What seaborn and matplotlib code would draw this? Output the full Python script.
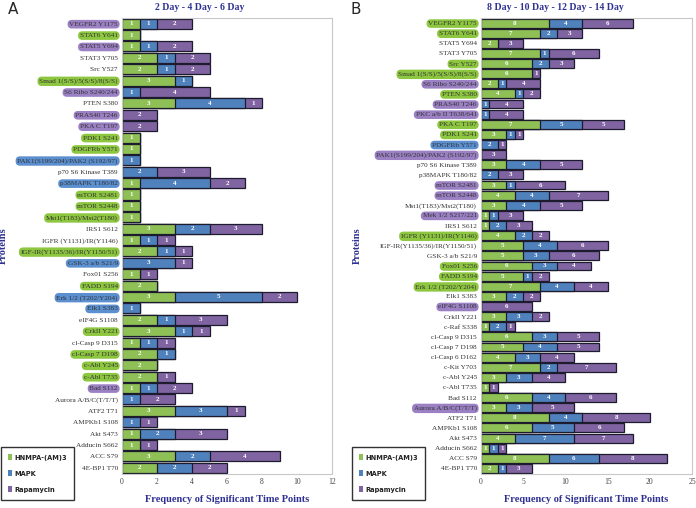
import matplotlib
matplotlib.use("Agg")
import matplotlib.pyplot as plt
from matplotlib.patches import Patch
import pandas as pd
import seaborn as sns

# panel A: 2 Day - 4 Day - 6 Day
labels_a = ["VEGFR2 Y1175", "STAT6 Y641", "STAT5 Y694", "STAT3 Y705", "Src Y527",
            "Smad 1(S/S)/5(S/S)/8(S/S)", "S6 Ribo S240/244", "PTEN S380", "PRAS40 T246", "PKA C T197",
            "PDK1 S241", "PDGFRb Y571", "PAK1(S199/204)/PAK2 (S192/97)", "p70 S6 Kinase T389", "p38MAPK T180/82",
            "mTOR S2481", "mTOR S2448", "Mst1(T183)/Mst2(T180)", "IRS1 S612", "IGFR (Y1131)/IR(Y1146)",
            "IGF-IR(Y1135/36)/IR(Y1150/51)", "GSK-3 a/b S21/9", "Fox01 S256", "FADD S194", "Erk 1/2 (T202/Y204)",
            "Elk1 S383", "eIF4G S1108", "CrkII Y221", "cl-Casp 9 D315", "cl-Casp 7 D198",
            "c-Abl Y245", "c-Abl T735", "Bad S112", "Aurora A/B/C(T/T/T)", "ATF2 T71",
            "AMPKb1 S108", "Akt S473", "Adducin S662", "ACC S79", "4E-BP1 T70"]
hnmpa_a = [1, 1, 1, 2, 2, 3, 0, 3, 0, 0, 1, 1, 0, 0, 1, 1, 1, 1, 3, 1,
           2, 0, 1, 2, 3, 0, 2, 3, 1, 2, 2, 2, 1, 0, 3, 0, 1, 1, 3, 2]
mapk_a = [1, 0, 1, 1, 1, 1, 1, 4, 0, 0, 0, 0, 1, 2, 4, 0, 0, 0, 2, 1,
          1, 3, 0, 0, 5, 1, 1, 1, 1, 1, 0, 0, 1, 1, 3, 1, 2, 0, 2, 2]
rapa_a = [2, 0, 2, 2, 2, 0, 4, 1, 2, 2, 0, 0, 0, 3, 2, 0, 0, 0, 3, 1,
          1, 1, 1, 0, 2, 0, 3, 1, 1, 0, 0, 1, 2, 2, 1, 1, 3, 1, 4, 2]
hl_a = ["p", "g", "p", "", "", "g", "p", "", "p", "p", "g", "g", "b", "", "b", "g", "g", "g", "", "",
        "g", "b", "", "g", "b", "b", "", "g", "", "g", "g", "g", "p", "", "", "", "", "", "", ""]

# panel B: 8 Day - 10 Day - 12 Day - 14 Day
labels_b = ["VEGFR2 Y1175", "STAT6 Y641", "STAT5 Y694", "STAT3 Y705", "Src Y527",
            "Smad 1(S/S)/5(S/S)/8(S/S)", "S6 Ribo S240/244", "PTEN S380", "PRAS40 T246", "PKC a/b II T638/641",
            "PKA C T197", "PDK1 S241", "PDGFRb Y571", "PAK1(S199/204)/PAK2 (S192/97)", "p70 S6 Kinase T389",
            "p38MAPK T180/82", "mTOR S2481", "mTOR S2448", "Mst1(T183)/Mst2(T180)", "Mek 1/2 S217/221",
            "IRS1 S612", "IGFR (Y1131)/IR(Y1146)", "IGF-IR(Y1135/36)/IR(Y1150/51)", "GSK-3 a/b S21/9", "Fox01 S256",
            "FADD S194", "Erk 1/2 (T202/Y204)", "Elk1 S383", "eIF4G S1108", "CrkII Y221",
            "c-Raf S338", "cl-Casp 9 D315", "cl-Casp 7 D198", "cl-Casp 6 D162", "c-Kit Y703",
            "c-Abl Y245", "c-Abl T735", "Bad S112", "Aurora A/B/C(T/T/T)", "ATF2 T71",
            "AMPKb1 S108", "Akt S473", "Adducin S662", "ACC S79", "4E-BP1 T70"]
hnmpa_b = [8, 7, 2, 7, 6, 6, 2, 4, 0, 0, 7, 3, 0, 0, 3, 0, 3, 4, 3, 1, 1, 4, 5,
           5, 6, 5, 7, 3, 0, 3, 1, 6, 5, 4, 7, 3, 1, 6, 3, 8, 6, 4, 1, 8, 2]
mapk_b = [4, 2, 0, 1, 2, 0, 1, 1, 1, 1, 5, 1, 2, 0, 4, 2, 1, 4, 4, 1, 2, 2, 4,
          3, 3, 1, 4, 2, 0, 3, 2, 3, 4, 3, 2, 3, 0, 4, 3, 4, 5, 7, 1, 6, 1]
rapa_b = [6, 3, 3, 6, 3, 1, 4, 2, 4, 4, 5, 1, 1, 3, 5, 3, 6, 7, 5, 3, 3, 2, 6,
          6, 4, 2, 4, 2, 6, 2, 1, 5, 5, 4, 7, 4, 1, 6, 5, 8, 6, 7, 1, 8, 3]
hl_b = ["g", "g", "", "", "g", "g", "p", "g", "p", "p", "g", "g", "b", "p", "", "", "p", "p", "", "p",
        "", "g", "", "", "g", "g", "g", "", "p", "", "", "", "", "", "", "", "", "", "p", "", "", "", "", "", ""]

series = ["HNMPA-(AM)3", "MAPK", "Rapamycin"]
bar_colors = ["#8fc055", "#4f81bd", "#8064a2"]
hl_colors = {"g": "#8dc63f", "b": "#5b8fd0", "p": "#9b80c4"}
navy = "#2e3192"

sns.set_theme(style="white")
plt.rcParams["font.family"] = ["Liberation Serif", "DejaVu Serif"]


def draw_panel(ax, labels, h, m, r, hl, xmax, xticks):
    df = pd.DataFrame({"protein": labels, "h": h, "m": m, "r": r})
    df["hm"] = df["h"] + df["m"]
    df["hmr"] = df["hm"] + df["r"]
    # stacked by overlaying cumulative totals
    for col, c in zip(["hmr", "hm", "h"], bar_colors[::-1]):
        sns.barplot(data=df, x=col, y="protein", order=labels, orient="h", color=c,
                    saturation=1, errorbar=None, width=0.88, edgecolor="#1c1c2e",
                    linewidth=0.9, ax=ax)
    for i, row in df.iterrows():
        start = 0
        for v in [row["h"], row["m"], row["r"]]:
            if v > 0:
                ax.text(start + v / 2, i, str(v), color="white", fontsize=5,
                        fontweight="bold", ha="center", va="center")
            start += v
    ax.set_xlim(0, xmax)
    ax.set_xticks(xticks)
    ax.set_xticklabels([str(t) for t in xticks], fontsize=5.5, color="#444444")
    ax.set_yticks(range(len(labels)))
    ax.set_yticklabels(labels, fontsize=5.2, color="#333333")
    ax.tick_params(axis="both", length=0, pad=3)
    for tl, k in zip(ax.get_yticklabels(), hl):
        if k:
            tl.set_bbox(dict(boxstyle="round,pad=0.25,rounding_size=0.6", fc=hl_colors[k], ec="none"))
    for s in ax.spines.values():
        s.set_color("#c8c8c8")
        s.set_linewidth(0.8)
    ax.set_xlabel("Frequency of Significant Time Points", fontsize=7.5, fontweight="bold",
                  color=navy, labelpad=7)
    ax.set_ylabel("Proteins", fontsize=7.5, fontweight="bold", color=navy)
    ax.grid(False)


fig = plt.figure(figsize=(6.96, 5.08), dpi=100)
bottom = 1 - 473.5 / 508
height = (473.5 - 18) / 508
ax_a = fig.add_axes([122 / 696, bottom, 210 / 696, height])
ax_b = fig.add_axes([481 / 696, bottom, 211 / 696, height])

draw_panel(ax_a, labels_a, hnmpa_a, mapk_a, rapa_a, hl_a, 12, [0, 2, 4, 6, 8, 10, 12])
draw_panel(ax_b, labels_b, hnmpa_b, mapk_b, rapa_b, hl_b, 25, [0, 5, 10, 15, 20, 25])
ax_a.yaxis.set_label_coords((8 - 122) / 210, 0.5)
ax_b.yaxis.set_label_coords((362 - 481) / 211, 0.5)

fig.text(8 / 696, 1 - 10 / 508, "A", fontsize=11, family="DejaVu Sans", va="center", ha="left")
fig.text(350 / 696, 1 - 10 / 508, "B", fontsize=11, family="DejaVu Sans", va="center", ha="left")
fig.text(200 / 696, 1 - 8 / 508, "2 Day - 4 Day - 6 Day", fontsize=7, fontweight="bold",
         color=navy, ha="center", va="center")
fig.text(555 / 696, 1 - 8 / 508, "8 Day - 10 Day - 12 Day - 14 Day", fontsize=7, fontweight="bold",
         color=navy, ha="center", va="center")

handles = [Patch(facecolor=c, edgecolor="none", label=s) for c, s in zip(bar_colors, series)]
for x0 in [1 / 696, 352 / 696]:
    leg = fig.legend(handles=handles, loc="upper left", bbox_to_anchor=(x0, 1 - 447 / 508),
                     frameon=True, fancybox=False, edgecolor="black",
                     handlelength=0.5, handleheight=0.9, handletextpad=0.3,
                     labelspacing=1.25, borderpad=1.0, borderaxespad=0,
                     prop={"family": ["DejaVu Sans"], "stretch": "condensed",
                           "weight": "bold", "size": 5.3})
    leg.get_frame().set_linewidth(1.0)
    for t in leg.get_texts():
        t.set_color("#222222")

fig.savefig("out.png", dpi=100)
